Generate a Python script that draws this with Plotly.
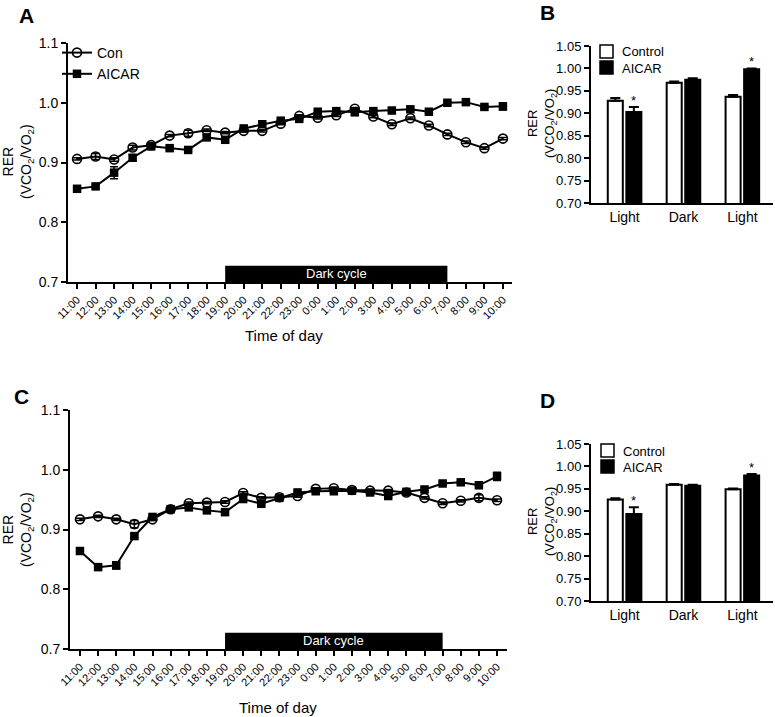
import plotly.graph_objects as go

# ---------------- data ----------------
times = ["11:00", "12:00", "13:00", "14:00", "15:00", "16:00", "17:00", "18:00",
         "19:00", "20:00", "21:00", "22:00", "23:00", "0:00", "1:00", "2:00",
         "3:00", "4:00", "5:00", "6:00", "7:00", "8:00", "9:00", "10:00"]
dark_start = "19:00"
dark_end = "7:00"

# Panel A
con_A = [0.906, 0.910, 0.905, 0.925, 0.929, 0.945, 0.949, 0.954, 0.950, 0.953, 0.953, 0.965,
         0.978, 0.975, 0.979, 0.990, 0.977, 0.964, 0.974, 0.962, 0.947, 0.934, 0.924, 0.940]
con_A_err = [0.002, 0.005, 0.003, 0.004, 0.003, 0.002, 0.005, 0.002, 0.002, 0.002, 0.002, 0.002,
             0.002, 0.002, 0.002, 0.002, 0.002, 0.002, 0.002, 0.002, 0.002, 0.002, 0.002, 0.002]
aicar_A = [0.856, 0.860, 0.883, 0.908, 0.927, 0.924, 0.921, 0.942, 0.938, 0.957, 0.964, 0.970,
           0.973, 0.985, 0.986, 0.984, 0.986, 0.987, 0.989, 0.985, 1.000, 1.001, 0.993, 0.994]
aicar_A_err = [0.002, 0.002, 0.010, 0.005, 0.005, 0.002, 0.002, 0.004, 0.003, 0.002, 0.003, 0.002,
               0.002, 0.002, 0.002, 0.002, 0.002, 0.002, 0.002, 0.002, 0.002, 0.002, 0.002, 0.006]

# Panel C
con_C = [0.917, 0.922, 0.917, 0.909, 0.917, 0.934, 0.944, 0.945, 0.946, 0.961, 0.953, 0.954,
         0.956, 0.968, 0.969, 0.966, 0.965, 0.965, 0.962, 0.953, 0.944, 0.948, 0.953, 0.949]
con_C_err = [0.002, 0.002, 0.002, 0.006, 0.002, 0.002, 0.002, 0.002, 0.002, 0.002, 0.002, 0.002,
             0.002, 0.002, 0.002, 0.002, 0.002, 0.002, 0.002, 0.002, 0.002, 0.002, 0.005, 0.002]
aicar_C = [0.864, 0.837, 0.840, 0.889, 0.921, 0.934, 0.937, 0.932, 0.929, 0.951, 0.943, 0.953,
           0.962, 0.964, 0.964, 0.965, 0.962, 0.956, 0.963, 0.967, 0.977, 0.979, 0.974, 0.989]
aicar_C_err = [0.002, 0.003, 0.006, 0.003, 0.002, 0.002, 0.002, 0.002, 0.002, 0.002, 0.002, 0.002,
               0.002, 0.002, 0.002, 0.002, 0.002, 0.002, 0.002, 0.002, 0.002, 0.002, 0.003, 0.007]

# Panels B and D
periods = ["Light", "Dark", "Light"]
bar_groups = ["Control", "AICAR"]
ctrl_B = [0.928, 0.968, 0.937]
ctrl_B_err = [0.006, 0.003, 0.004]
aicar_B = [0.903, 0.975, 0.998]
aicar_B_err = [0.011, 0.003, 0.002]
sig_B = [True, False, True]

ctrl_D = [0.926, 0.959, 0.949]
ctrl_D_err = [0.003, 0.002, 0.002]
aicar_D = [0.894, 0.957, 0.980]
aicar_D_err = [0.015, 0.002, 0.003]
sig_D = [True, False, True]

# ---------------- layout helpers ----------------
W, H = 775, 717
FONT = "Liberation Sans, Arial, sans-serif"


def xd(a, b):
    return [a / W, b / W]


def yd(top, bottom):
    return [1 - bottom / H, 1 - top / H]


def px(x):
    return x / W


def py(y):
    return 1 - y / H


fig = go.Figure()

BARGAP = 0.37
BAR_FILLS = {"Control": "white", "AICAR": "black"}


def add_line_panel(xa, ya, con, con_err, aic, aic_err, show):
    fig.add_trace(go.Scatter(
        x=times, y=con, name="Con", mode="lines+markers", xaxis=xa, yaxis=ya,
        line=dict(color="black", width=2),
        marker=dict(symbol="circle-open", size=9, color="black", line=dict(width=1.6)),
        error_y=dict(type="data", array=con_err, color="black", thickness=1.5, width=4),
        showlegend=show))
    fig.add_trace(go.Scatter(
        x=times, y=aic, name="AICAR", mode="lines+markers", xaxis=xa, yaxis=ya,
        line=dict(color="black", width=2),
        marker=dict(symbol="square", size=8.5, color="black"),
        error_y=dict(type="data", array=aic_err, color="black", thickness=1.5, width=4),
        showlegend=show))


def add_bar_panel(xa, ya, ctrl, ctrl_err, aic, aic_err, sig, leg_x, leg_y):
    xs = list(range(len(periods)))
    for name, vals, errs in [(bar_groups[0], ctrl, ctrl_err), (bar_groups[1], aic, aic_err)]:
        fig.add_trace(go.Bar(
            x=xs, y=vals, name=name, xaxis=xa, yaxis=ya, showlegend=False,
            marker=dict(color=BAR_FILLS[name], line=dict(color="black", width=2)),
            error_y=dict(type="data", symmetric=False, array=errs, arrayminus=[0] * len(vals),
                         color="black", thickness=2, width=5)))
    offset = (1 - BARGAP) / 4.0
    for i, s in enumerate(sig):
        if s:
            fig.add_annotation(x=xs[i] + offset, y=aic[i] + aic_err[i], xref=xa, yref=ya,
                               text="*", showarrow=False, xanchor="center", yanchor="bottom",
                               font=dict(size=13, color="black", family=FONT), yshift=-3)
    # legend (boxes + labels)
    for k, name in enumerate(bar_groups):
        top = leg_y + k * 16
        fig.add_shape(type="rect", xref="paper", yref="paper",
                      x0=px(leg_x), x1=px(leg_x + 13), y0=py(top + 13), y1=py(top),
                      fillcolor=BAR_FILLS[name], line=dict(color="black", width=1.5))
        fig.add_annotation(x=px(leg_x + 20), y=py(top + 7), xref="paper", yref="paper",
                           text=name, showarrow=False, xanchor="left", yanchor="middle",
                           font=dict(size=13, color="black", family=FONT))


add_line_panel("x", "y", con_A, con_A_err, aicar_A, aicar_A_err, True)
add_bar_panel("x2", "y2", ctrl_B, ctrl_B_err, aicar_B, aicar_B_err, sig_B, 600, 45)
add_line_panel("x3", "y3", con_C, con_C_err, aicar_C, aicar_C_err, False)
add_bar_panel("x4", "y4", ctrl_D, ctrl_D_err, aicar_D, aicar_D_err, sig_D, 601, 444)

# dark cycle bars
i0, i1 = times.index(dark_start), times.index(dark_end)
for xa, ya in [("x", "y"), ("x3", "y3")]:
    fig.add_shape(type="rect", xref=xa, yref=ya, x0=i0, x1=i1, y0=0.7, y1=0.727,
                  fillcolor="black", line=dict(width=0), layer="above")
    fig.add_annotation(x=(i0 + i1) / 2, y=0.7135, xref=xa, yref=ya, text="Dark cycle",
                       showarrow=False, xanchor="center", yanchor="middle",
                       font=dict(size=13, color="white", family=FONT))

common_axis = dict(showline=True, linewidth=2, linecolor="black", ticks="outside",
                   ticklen=5, tickwidth=2, tickcolor="black", showgrid=False, zeroline=False,
                   automargin=False)

line_x = dict(common_axis, type="category", tickangle=-45, tickfont=dict(size=11, color="black"))
line_y = dict(common_axis, range=[0.7, 1.1], tickvals=[0.7, 0.8, 0.9, 1.0, 1.1],
              tickformat=".1f", tickfont=dict(size=14, color="black"))
bar_x = dict(showline=True, linewidth=2, linecolor="black", ticks="", showgrid=False,
             zeroline=False, tickvals=[0, 1, 2], ticktext=periods, automargin=False,
             tickfont=dict(size=14, color="black"))
bar_y = dict(common_axis, range=[0.70, 1.05], tickvals=[0.70, 0.75, 0.80, 0.85, 0.90, 0.95, 1.00, 1.05],
             tickformat=".2f", tickfont=dict(size=13, color="black"))

fig.update_layout(
    template="none",
    width=W, height=H, margin=dict(l=0, r=0, t=0, b=0, autoexpand=False),
    paper_bgcolor="white", plot_bgcolor="white",
    font=dict(family=FONT, color="black"),
    barmode="group", bargap=BARGAP, bargroupgap=0.19,
    xaxis=dict(line_x, domain=xd(68, 512), range=[-0.49, 23.49], anchor="y"),
    yaxis=dict(line_y, domain=yd(43, 282), anchor="x"),
    xaxis2=dict(bar_x, domain=xd(591, 773), range=[-0.57, 2.52], anchor="y2"),
    yaxis2=dict(bar_y, domain=yd(46, 203), anchor="x2"),
    xaxis3=dict(line_x, domain=xd(70, 507), range=[-0.55, 23.55], anchor="y3"),
    yaxis3=dict(line_y, domain=yd(410, 649), anchor="x3"),
    xaxis4=dict(bar_x, domain=xd(591, 773), range=[-0.57, 2.52], anchor="y4"),
    yaxis4=dict(bar_y, domain=yd(444, 601), anchor="x4"),
    legend=dict(x=px(57), y=py(37), xanchor="left", yanchor="top", bgcolor="rgba(0,0,0,0)",
                font=dict(size=14, color="black", family=FONT), tracegroupgap=0, itemwidth=30),
    showlegend=True,
)

# panel letters
for letter, x, y in [("A", 27, 16), ("B", 547, 12), ("C", 21, 396), ("D", 547, 400)]:
    fig.add_annotation(x=px(x), y=py(y), xref="paper", yref="paper", text="<b>%s</b>" % letter,
                       showarrow=False, xanchor="center", yanchor="middle",
                       font=dict(size=21, color="black", family=FONT))

ytitle = "RER<br>(VCO<sub>2</sub>/VO<sub>2</sub>)"
for x, y, size in [(18, 162, 14), (18, 530, 14), (542, 124, 13), (542, 522, 13)]:
    fig.add_annotation(x=px(x), y=py(y), xref="paper", yref="paper", text=ytitle, textangle=-90,
                       showarrow=False, xanchor="center", yanchor="middle",
                       font=dict(size=size, color="black", family=FONT))

for x, y in [(284, 335), (278, 707)]:
    fig.add_annotation(x=px(x), y=py(y), xref="paper", yref="paper", text="Time of day",
                       showarrow=False, xanchor="center", yanchor="middle",
                       font=dict(size=15, color="black", family=FONT))

fig.write_html("out.html", config={"displayModeBar": False, "staticPlot": True},
               post_script="document.body.style.margin='0';")
